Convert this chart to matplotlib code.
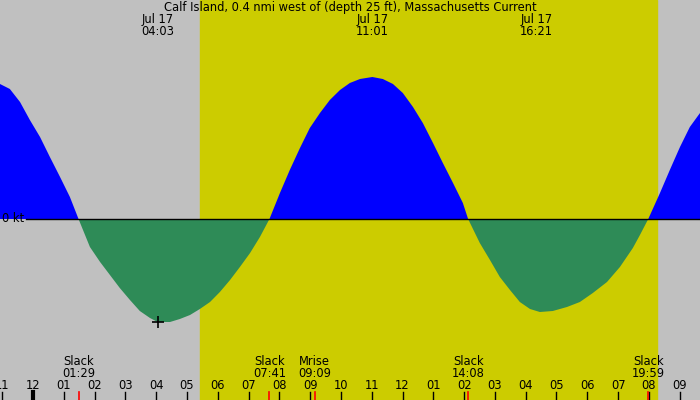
import numpy as np
import matplotlib.pyplot as plt

# current speed (kt), time in hours from midnight Jul 17
hours = [-1.07, -0.75, -0.42, -0.10, 0.23, 0.55, 0.88, 1.20, 1.48,
         1.85, 2.18, 2.50, 2.82, 3.15, 3.47, 3.80, 4.05, 4.45, 4.77,
         5.10, 5.42, 5.75, 6.07, 6.40, 6.72, 7.05, 7.37, 7.68,
         8.02, 8.34, 8.67, 8.99, 9.32, 9.64, 9.97, 10.29, 10.62, 11.02,
         11.36, 11.69, 12.01, 12.34, 12.66, 12.99, 13.31, 13.64, 13.96, 14.13,
         14.51, 14.84, 15.16, 15.49, 15.81, 16.14, 16.46, 16.88, 17.34,
         17.76, 18.18, 18.64, 19.06, 19.48, 19.71, 19.98,
         20.36, 20.68, 21.01, 21.33, 21.66]
speed = [1.35, 1.30, 1.17, 0.99, 0.82, 0.62, 0.42, 0.22, 0.0,
         -0.28, -0.43, -0.56, -0.69, -0.81, -0.92, -0.99, -1.03, -1.03, -1.00,
         -0.96, -0.90, -0.83, -0.73, -0.61, -0.48, -0.34, -0.18, 0.0,
         0.26, 0.49, 0.71, 0.91, 1.06, 1.19, 1.29, 1.36, 1.40, 1.42,
         1.40, 1.35, 1.26, 1.12, 0.96, 0.76, 0.56, 0.36, 0.16, 0.0,
         -0.24, -0.41, -0.58, -0.71, -0.83, -0.90, -0.93, -0.92, -0.88,
         -0.83, -0.74, -0.63, -0.48, -0.29, -0.16, 0.0,
         0.26, 0.49, 0.72, 0.92, 1.06]

sunrise = 5.42
sunset = 20.26

peak_times = [4.05, 11.02, 16.35]
peak_labels = ["04:03", "11:01", "16:21"]

event_times = [1.48, 7.68, 9.15, 14.13, 19.98]
event_names = ["Slack", "Slack", "Mrise", "Slack", "Slack"]
event_labels = ["01:29", "07:41", "09:09", "14:08", "19:59"]

tick_hours = list(range(-1, 22))
tick_labels = ["11", "12"] + ["%02d" % h for h in range(1, 13)] + ["%02d" % h for h in range(1, 10)]

title = "Calf Island, 0.4 nmi west of (depth 25 ft), Massachusetts Current"

t = np.array(hours)
v = np.array(speed)

fig = plt.figure(figsize=(7, 4), dpi=100, facecolor="#c0c0c0")
ax = fig.add_axes([0, 0, 1, 1])
ax.set_xlim(-1.07, 21.66)
ax.set_ylim(-1.81, 2.19)
ax.axis("off")

# daylight band
ax.axvspan(sunrise, sunset, color="#cccc00", zorder=0)

ax.fill_between(t, v, 0, where=v >= 0, interpolate=True, color="#0000ff", lw=0, zorder=2)
ax.fill_between(t, v, 0, where=v <= 0, interpolate=True, color="#2e8b57", lw=0, zorder=2)

# zero line
ax.plot([-0.22, 21.66], [0, 0], color="black", lw=1, zorder=3)
ax.text(0.003, 1 - 219 / 400, "0 kt", transform=ax.transAxes, ha="left", va="center",
        fontsize=8.3, zorder=4)

# max/min marker
ax.plot(4.05, -1.03, marker="+", color="black", ms=9, mew=1.2, zorder=4)

def ypx(p):
    return 1 - p / 400

tr = ax.get_xaxis_transform()
fs = 8.3

ax.text(10.29, ypx(7.5), title, transform=tr, ha="center", va="center", fontsize=fs)
for pt, pl in zip(peak_times, peak_labels):
    ax.text(pt, ypx(19.5), "Jul 17", transform=tr, ha="center", va="center", fontsize=fs)
    ax.text(pt, ypx(31.5), pl, transform=tr, ha="center", va="center", fontsize=fs)

# hour ticks
for h, lab in zip(tick_hours, tick_labels):
    ax.text(h, ypx(385.5), lab, transform=tr, ha="center", va="center", fontsize=fs)
    lw = 3 if h == 0 else 1
    ax.plot([h, h], [ypx(392), 0], transform=tr, color="black", lw=lw, clip_on=False)

# events
for et, en, el in zip(event_times, event_names, event_labels):
    ax.text(et, ypx(361.5), en, transform=tr, ha="center", va="center", fontsize=fs)
    ax.text(et, ypx(373.5), el, transform=tr, ha="center", va="center", fontsize=fs)
    ax.plot([et, et], [ypx(392), 0], transform=tr, color="red", lw=1.2, clip_on=False)

fig.savefig("out.png", dpi=100, facecolor=fig.get_facecolor())
